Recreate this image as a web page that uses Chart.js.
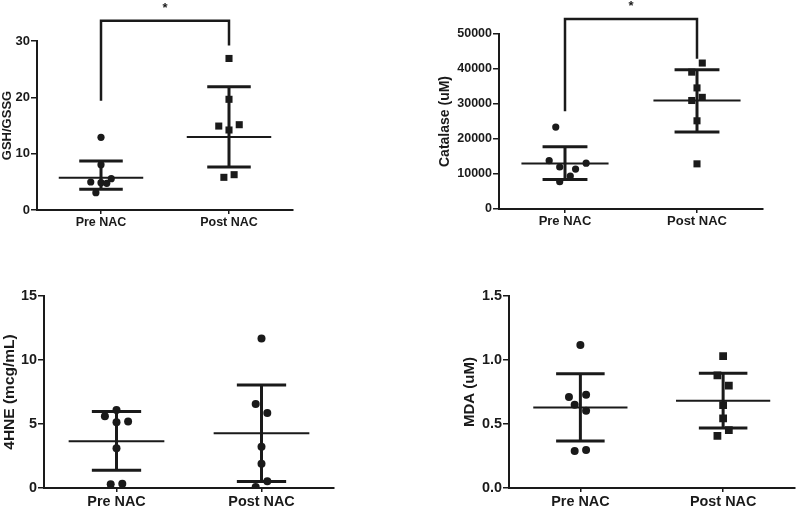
<!DOCTYPE html>
<html>
<head>
<meta charset="utf-8">
<script src="https://cdn.jsdelivr.net/npm/chart.js@4.4.1/dist/chart.umd.min.js"></script>
<style>
  body { margin: 0; background: #fff; width: 800px; height: 511px; position: relative; overflow: hidden; }
  canvas { position: absolute; }
</style>
</head>
<body>
<canvas id="c1" width="300" height="240" style="left:0;top:0"></canvas>
<canvas id="c2" width="336" height="240" style="left:434px;top:0"></canvas>
<canvas id="c3" width="342" height="261" style="left:0;top:250px"></canvas>
<canvas id="c4" width="340" height="261" style="left:460px;top:250px"></canvas>
<script>
// groups on the x axis
const categories = ['Pre NAC', 'Post NAC'];

// GSH/GSSG
const gshPre = [12.9, 8.05, 4.97, 4.85, 4.73, 5.56, 3.07];
const gshPost = [26.9, 19.65, 14.9, 15.14, 14.2, 5.8, 6.27];
const gshPreJit = [0, 0, -0.08, 0, 0.045, 0.08, -0.04];
const gshPostJit = [0, 0, -0.08, 0.08, 0, -0.04, 0.04];
const gshMean = [5.74, 12.95];
const gshHigh = [8.7, 21.9];
const gshLow = [3.67, 7.63];
const gshTicks = [0, 10, 20, 30];
const gshBracket = [19.4, 33.6, 29.2]; // left leg end, top, right leg end

// Catalase
const catPre = [23400, 13800, 12000, 13100, 11400, 9400, 7800];
const catPost = [41700, 39100, 34600, 31900, 31000, 25200, 12900];
const catPreJit = [-0.07, -0.12, -0.04, 0.16, 0.08, 0.04, -0.04];
const catPostJit = [0.04, -0.04, 0, 0.04, -0.04, 0, 0];
const catMean = [13000, 31000];
const catHigh = [17800, 39800];
const catLow = [8400, 22000];
const catTicks = [0, 10000, 20000, 30000, 40000, 50000];
const catBracket = [27900, 54300, 42900];

// 4HNE
const hnePre = [6.1, 5.6, 5.13, 5.2, 3.1, 0.29, 0.34];
const hnePost = [11.67, 6.56, 5.86, 3.23, 1.9, 0.52, 0.08];
const hnePreJit = [0, -0.08, 0, 0.08, 0, -0.04, 0.04];
const hnePostJit = [0, -0.04, 0.04, 0, 0, 0.04, -0.04];
const hneMean = [3.65, 4.27];
const hneHigh = [5.97, 8.05];
const hneLow = [1.38, 0.5];
const hneTicks = [0, 5, 10, 15];

// MDA
const mdaPre = [1.118, 0.71, 0.728, 0.65, 0.603, 0.289, 0.296];
const mdaPost = [1.03, 0.88, 0.80, 0.647, 0.544, 0.452, 0.408];
const mdaPreJit = [0, -0.08, 0.04, -0.04, 0.04, -0.04, 0.04];
const mdaPostJit = [0, -0.04, 0.04, 0, 0, 0.04, -0.04];
const mdaMean = [0.629, 0.681];
const mdaHigh = [0.892, 0.897];
const mdaLow = [0.367, 0.468];
const mdaTicks = [0, 0.5, 1.0, 1.5];

const INK = '#1a1a1a';
Chart.defaults.font.family = "'Liberation Sans', Arial, sans-serif";
Chart.defaults.font.weight = 'bold';
Chart.defaults.color = INK;

// draws the significance star above the bracket
const starPlugin = {
    id: 'sigStar',
    afterDatasetsDraw(chart, args, opts) {
        if (!opts.top) return;
        const ctx = chart.ctx;
        const px = chart.scales.x.getPixelForValue(1.5);
        const py = chart.scales.y.getPixelForValue(opts.top);
        ctx.save();
        ctx.fillStyle = INK;
        ctx.font = 'bold 13px "Liberation Sans", Arial, sans-serif';
        ctx.textAlign = 'center';
        ctx.textBaseline = 'alphabetic';
        ctx.fillText('*', px, py - 9);
        ctx.restore();
    }
};

function pts(vals, jit, center) {
    return vals.map((v, i) => ({ x: center + jit[i], y: v }));
}

function meanSegs(mean) {
    const d = [];
    mean.forEach((m, i) => {
        const c = i + 1;
        d.push({ x: c - 0.33, y: m }, { x: c + 0.33, y: m }, { x: c, y: null });
    });
    return d;
}

function sdSegs(high, low) {
    const d = [];
    high.forEach((h, i) => {
        const c = i + 1, l = low[i];
        d.push({ x: c, y: l }, { x: c, y: h }, { x: c, y: null });
        d.push({ x: c - 0.17, y: h }, { x: c + 0.17, y: h }, { x: c, y: null });
        d.push({ x: c - 0.17, y: l }, { x: c + 0.17, y: l }, { x: c, y: null });
    });
    return d;
}

function makePanel(id, p) {
    const datasets = [
        {
            type: 'line', data: pts(p.pre, p.preJit, 1), showLine: false,
            pointStyle: 'circle', pointRadius: p.dot, pointBorderWidth: 0,
            pointBackgroundColor: INK
        },
        {
            type: 'line', data: pts(p.post, p.postJit, 2), showLine: false,
            pointStyle: p.postStyle, pointRadius: p.postStyle === 'rect' ? p.sq : p.dot,
            pointBorderWidth: 0, pointBackgroundColor: INK
        },
        {
            type: 'line', data: meanSegs(p.mean), spanGaps: false, pointRadius: 0,
            borderColor: INK, borderWidth: 2, tension: 0
        },
        {
            type: 'line', data: sdSegs(p.high, p.low), spanGaps: false, pointRadius: 0,
            borderColor: INK, borderWidth: 3, tension: 0, borderCapStyle: 'butt'
        }
    ];
    if (p.bracket) {
        datasets.push({
            type: 'line', clip: false, pointRadius: 0, borderColor: INK, borderWidth: 2.5,
            data: [
                { x: 1, y: p.bracket[0] }, { x: 1, y: p.bracket[1] },
                { x: 2, y: p.bracket[1] }, { x: 2, y: p.bracket[2] }
            ]
        });
    }

    new Chart(document.getElementById(id), {
        type: 'line',
        data: { datasets },
        options: {
            responsive: false,
            animation: false,
            events: [],
            layout: { padding: { top: p.padTop, right: p.padRight, left: 0, bottom: 0 } },
            plugins: {
                legend: { display: false },
                tooltip: { enabled: false },
                sigStar: { top: p.bracket ? p.bracket[1] : 0 }
            },
            scales: {
                x: {
                    type: 'linear', min: 0.5, max: 2.5,
                    afterBuildTicks: s => { s.ticks = [{ value: 1 }, { value: 2 }]; },
                    afterFit: s => { s.height = p.xH; },
                    ticks: {
                        callback: v => categories[v - 1],
                        font: { size: p.catSize, weight: 'bold' }, color: INK,
                        padding: 1, maxRotation: 0, autoSkip: false
                    },
                    grid: { drawOnChartArea: false, drawTicks: true, tickLength: 4, color: INK, lineWidth: 1.5 },
                    border: { display: true, color: INK, width: 2 }
                },
                y: {
                    type: 'linear', min: p.ticks[0], max: p.ticks[p.ticks.length - 1],
                    afterBuildTicks: s => { s.ticks = p.ticks.map(v => ({ value: v })); },
                    afterFit: s => { s.width = p.yW; },
                    ticks: {
                        callback: v => p.fmt ? p.fmt(v) : String(v),
                        font: { size: p.tickSize, weight: 'bold' }, color: INK, padding: 1
                    },
                    grid: { drawOnChartArea: false, drawTicks: true, tickLength: 6, color: INK, lineWidth: 1.5 },
                    border: { display: true, color: INK, width: 2 },
                    title: {
                        display: true, text: p.title,
                        font: { size: p.titleSize, weight: 'bold' }, color: INK,
                        padding: { top: p.titlePad, bottom: 0 }
                    }
                }
            }
        },
        plugins: [starPlugin]
    });
}

makePanel('c1', {
    pre: gshPre, post: gshPost, preJit: gshPreJit, postJit: gshPostJit,
    mean: gshMean, high: gshHigh, low: gshLow, ticks: gshTicks, bracket: gshBracket,
    title: 'GSH/GSSG', postStyle: 'rect', dot: 3.6, sq: 5,
    tickSize: 13, catSize: 12.5, titleSize: 13,
    yW: 37, xH: 30, padTop: 41, padRight: 7, titlePad: 0
});

makePanel('c2', {
    pre: catPre, post: catPost, preJit: catPreJit, postJit: catPostJit,
    mean: catMean, high: catHigh, low: catLow, ticks: catTicks, bracket: catBracket,
    title: 'Catalase (uM)', postStyle: 'rect', dot: 3.6, sq: 5,
    tickSize: 12.5, catSize: 13, titleSize: 14,
    yW: 65, xH: 31, padTop: 34, padRight: 7, titlePad: 3
});

makePanel('c3', {
    pre: hnePre, post: hnePost, preJit: hnePreJit, postJit: hnePostJit,
    mean: hneMean, high: hneHigh, low: hneLow, ticks: hneTicks,
    title: '4HNE (mcg/mL)', postStyle: 'circle', dot: 4, sq: 5,
    tickSize: 14.4, catSize: 14.4, titleSize: 15.5,
    yW: 44, xH: 23, padTop: 46, padRight: 8, titlePad: 0
});

makePanel('c4', {
    pre: mdaPre, post: mdaPost, preJit: mdaPreJit, postJit: mdaPostJit,
    mean: mdaMean, high: mdaHigh, low: mdaLow, ticks: mdaTicks,
    title: 'MDA (uM)', postStyle: 'rect', dot: 4, sq: 5.5, fmt: v => v.toFixed(1),
    tickSize: 14.4, catSize: 14.4, titleSize: 15,
    yW: 49, xH: 23, padTop: 46, padRight: 2, titlePad: 1
});
</script>
</body>
</html>
